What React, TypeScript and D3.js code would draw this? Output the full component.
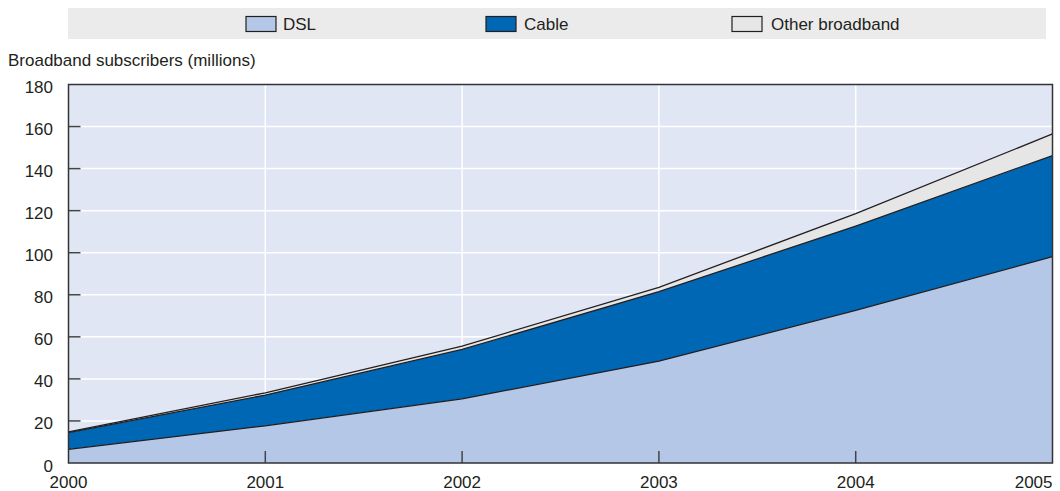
import React from "react";
import * as d3 from "d3";

const years = [2000, 2001, 2002, 2003, 2004, 2005];
const dsl = [6.5, 17.7, 30.5, 48.4, 72.6, 98.1];
const cable = [7.9, 14.6, 23.5, 33.1, 40.1, 48.1];
const other = [0.4, 1.1, 1.6, 2.0, 5.9, 10.3];
const yTicks = [0, 20, 40, 60, 80, 100, 120, 140, 160, 180];
const seriesNames = ["DSL", "Cable", "Other broadband"];
const seriesColors = ["#b4c7e7", "#0067b4", "#e6e6e6"];

const W = 1060;
const H = 491;
const M = { left: 68.5, right: 1052.5, top: 84.5, bottom: 463 };
const FONT = "'Liberation Sans', Arial, sans-serif";
const TEXT = "#231f20";

export default function App() {
  const x = d3.scaleLinear().domain([2000, 2005]).range([M.left, M.right]);
  const y = d3.scaleLinear().domain([0, 180]).range([M.bottom, M.top]);

  const rows = years.map((yr, i) => ({ year: yr, DSL: dsl[i], Cable: cable[i], "Other broadband": other[i] }));
  const stacked = d3.stack<any>().keys(seriesNames)(rows);
  const area = d3
    .area<any>()
    .x((d) => x(d.data.year))
    .y0((d) => y(d[0]))
    .y1((d) => y(d[1]));
  const line = d3
    .line<any>()
    .x((d) => x(d.data.year))
    .y((d) => y(d[1]));

  const legend = [
    { name: "DSL", bx: 246, tx: 283 },
    { name: "Cable", bx: 486, tx: 524 },
    { name: "Other broadband", bx: 732, tx: 771 },
  ];

  return (
    <svg width={W} height={H} style={{ position: "absolute", left: 0, top: 0, background: "#fff" }}>
      {/* legend band */}
      <rect x={68} y={8} width={978} height={31} fill="#ebebeb" />
      {legend.map((l, i) => (
        <g key={l.name}>
          <rect x={l.bx} y={16.5} width={30} height={15} fill={seriesColors[i]} stroke="#231f20" strokeWidth={1.2} />
          <text x={l.tx} y={30} fontFamily={FONT} fontSize={17} fill={TEXT} textLength={undefined}>
            {l.name}
          </text>
        </g>
      ))}

      <text x={8} y={66} fontFamily={FONT} fontSize={17} fill={TEXT}>
        Broadband subscribers (millions)
      </text>

      {/* plot background */}
      <rect x={M.left} y={M.top} width={M.right - M.left} height={M.bottom - M.top} fill="#e0e6f3" />
      {yTicks.slice(1, -1).map((t) => (
        <line key={t} x1={M.left} x2={M.right} y1={y(t)} y2={y(t)} stroke="#fff" strokeWidth={1.5} />
      ))}
      {years.slice(1, -1).map((yr) => (
        <line key={yr} x1={x(yr)} x2={x(yr)} y1={M.top} y2={M.bottom} stroke="#fff" strokeWidth={1.5} />
      ))}

      {stacked.map((s, i) => (
        <path key={s.key} d={area(s) || ""} fill={seriesColors[i]} />
      ))}
      {stacked.map((s) => (
        <path key={s.key + "l"} d={line(s) || ""} fill="none" stroke="#231f20" strokeWidth={1.3} />
      ))}

      {/* ticks */}
      {yTicks.slice(1, -1).map((t) => (
        <line key={t} x1={M.left} x2={M.left + 12} y1={y(t)} y2={y(t)} stroke="#444" strokeWidth={1.5} />
      ))}
      {years.slice(1, -1).map((yr) => (
        <line key={yr} x1={x(yr)} x2={x(yr)} y1={M.bottom} y2={M.bottom - 12} stroke="#444" strokeWidth={1.5} />
      ))}

      <rect
        x={M.left}
        y={M.top}
        width={M.right - M.left}
        height={M.bottom - M.top}
        fill="none"
        stroke="#333"
        strokeWidth={1.5}
      />

      {yTicks.map((t) => (
        <text key={t} x={53} y={y(t) + 8.5} textAnchor="end" fontFamily={FONT} fontSize={17} fill={TEXT}>
          {t}
        </text>
      ))}
      {years.map((yr, i) => (
        <text
          key={yr}
          x={i === years.length - 1 ? M.right : x(yr)}
          y={488}
          textAnchor={i === years.length - 1 ? "end" : "middle"}
          fontFamily={FONT}
          fontSize={17}
          fill={TEXT}
        >
          {yr}
        </text>
      ))}
    </svg>
  );
}
